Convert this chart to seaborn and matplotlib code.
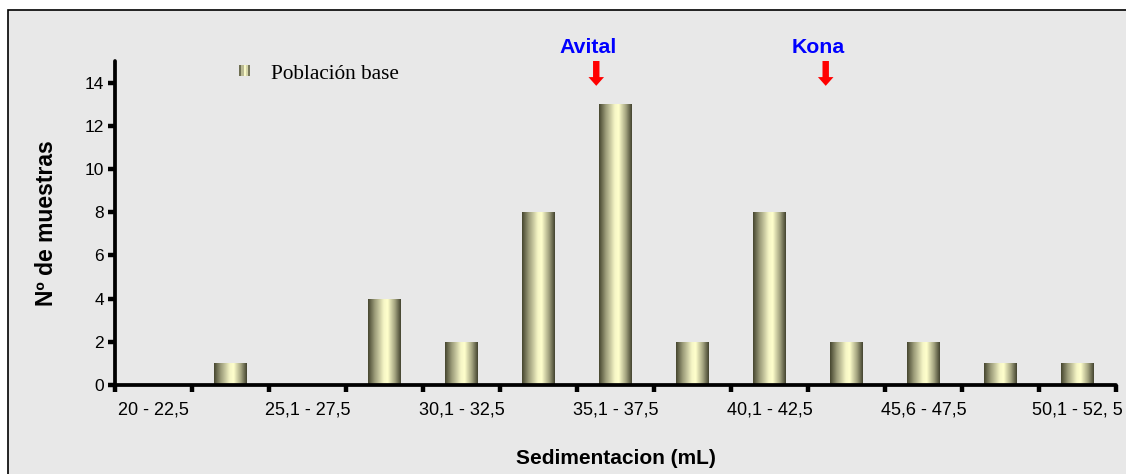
import numpy as np
import pandas as pd
import matplotlib
matplotlib.use("Agg")
import matplotlib.pyplot as plt
import seaborn as sns
from matplotlib.patches import Rectangle
from matplotlib.colors import LinearSegmentedColormap
from matplotlib.legend_handler import HandlerBase

# ---- data ----
categories = ["20 - 22,5", "22,6 - 25", "25,1 - 27,5", "27,6 - 30", "30,1 - 32,5",
              "32,6 - 35", "35,1 - 37,5", "37,6 - 40", "40,1 - 42,5", "42,6 - 45,5",
              "45,6 - 47,5", "47,6 - 50", "50,1 - 52, 5"]
counts = [0, 1, 0, 4, 2, 8, 13, 2, 8, 2, 2, 1, 1]
y_ticks = [0, 2, 4, 6, 8, 10, 12, 14]
series_name = "Población base"
marker_names = ["Avital", "Kona"]
marker_pos = [5.75, 8.73]
x_title = "Sedimentacion (mL)"
y_title = "Nº de muestras"

sns.set_theme(style="white")
plt.rcParams["font.family"] = ["Liberation Sans", "DejaVu Sans"]
plt.rcParams["text.color"] = "black"
plt.rcParams["axes.labelcolor"] = "black"
plt.rcParams["xtick.color"] = "black"
plt.rcParams["ytick.color"] = "black"

W, H = 1126, 474
fig = plt.figure(figsize=(W / 100, H / 100), dpi=100, facecolor="white")
fig.patches.append(Rectangle((8 / W, -0.1), 1.2, 1.1 - 10 / H, transform=fig.transFigure,
                             facecolor="#e8e8e8", edgecolor="black", lw=1.2, zorder=-10))

ax = fig.add_axes([115 / W, 1 - 385 / H, 1001 / W, 324 / H])
ax.set_facecolor("none")

df = pd.DataFrame({"rango": categories, "n": counts})
sns.barplot(data=df, x="rango", y="n", order=categories, width=0.42,
            color="#e0e0b0", saturation=1, ax=ax, zorder=3, linewidth=0)

cmap = LinearSegmentedColormap.from_list(
    "cyl", [(0, "#46462f"), (0.2, "#9a9a78"), (0.48, "#f6f6c6"), (0.6, "#ffffcc"),
            (0.82, "#a4a480"), (1, "#444430")])
grad = np.linspace(0, 1, 128).reshape(1, -1)
for p in list(ax.patches):
    p.set_linewidth(0)
    p.set_edgecolor("none")
    h = p.get_height()
    if h <= 0:
        p.set_visible(False)
        continue
    x0, w = p.get_x(), p.get_width()
    im = ax.imshow(grad, cmap=cmap, extent=[x0, x0 + w, 0, h], aspect="auto",
                   zorder=4, interpolation="bilinear")
    im.set_clip_path(p)

ax.set_xlim(-0.5, len(categories) - 0.5)
ax.set_ylim(0, 15)
ax.set_yticks(y_ticks)
ax.set_xticks(np.arange(-0.5, len(categories), 1.0))
ax.set_xticklabels([])
ax.set_xticks(range(0, len(categories), 2), labels=categories[::2], minor=True)
ax.tick_params(axis="x", which="minor", bottom=True, length=0, pad=12, labelsize=13,
               labelcolor="black")
ax.tick_params(axis="x", which="major", bottom=True, length=5, width=3.2, direction="out",
               color="black")
ax.tick_params(axis="y", left=True, length=5, width=3.2, direction="out", color="black",
               labelsize=12.5, pad=3, labelcolor="black")
ax.set_xlabel("")
ax.set_ylabel("")
for s in ["top", "right"]:
    ax.spines[s].set_visible(False)
for s in ["left", "bottom"]:
    ax.spines[s].set_linewidth(2.7)
    ax.spines[s].set_color("black")
    ax.spines[s].set_capstyle("round")
    ax.spines[s].set_zorder(6)

ax.text(0.5, -0.228, x_title, transform=ax.transAxes, ha="center", va="center",
        fontsize=15, fontweight="bold", color="black")
ax.text(-0.068, 0.5, y_title, transform=ax.transAxes, ha="center", va="center",
        rotation=90, fontsize=16.5, fontweight="bold", color="black")

for name, xp in zip(marker_names, marker_pos):
    ax.annotate("", xy=(xp, 13.85), xytext=(xp, 15.0), annotation_clip=False,
                arrowprops=dict(arrowstyle="simple,head_width=0.8,head_length=0.45,tail_width=0.33",
                                color="#ff0000", lw=0, shrinkA=0, shrinkB=0, mutation_scale=14))
    ax.text(xp - 0.1, 15.62, name, ha="center", va="center", color="#0000ff",
            fontsize=15.3, fontweight="bold", clip_on=False)


class GradHandler(HandlerBase):
    def create_artists(self, legend, orig, xd, yd, width, height, fontsize, trans):
        n = 5
        side = 8
        x0 = xd + (width - side) / 2 + 1
        y0 = yd + (height - side) / 2 + 1
        arts = []
        for i in range(n):
            c = cmap((i + 0.5) / n)
            r = Rectangle((x0 + i * side / n, y0), side / n, side, facecolor=c,
                          edgecolor="none", transform=trans)
            arts.append(r)
        return arts


handle = Rectangle((0, 0), 1, 1)
leg = ax.legend([handle], [series_name], handler_map={Rectangle: GradHandler()},
                loc="upper left", bbox_to_anchor=(0.109, 1.016), frameon=False,
                prop={"family": "Liberation Serif", "size": 15.3},
                handlelength=1.0, handletextpad=0.8, borderaxespad=0)
for t in leg.get_texts():
    t.set_color("black")

fig.savefig("out.png", dpi=100, facecolor=fig.get_facecolor())
